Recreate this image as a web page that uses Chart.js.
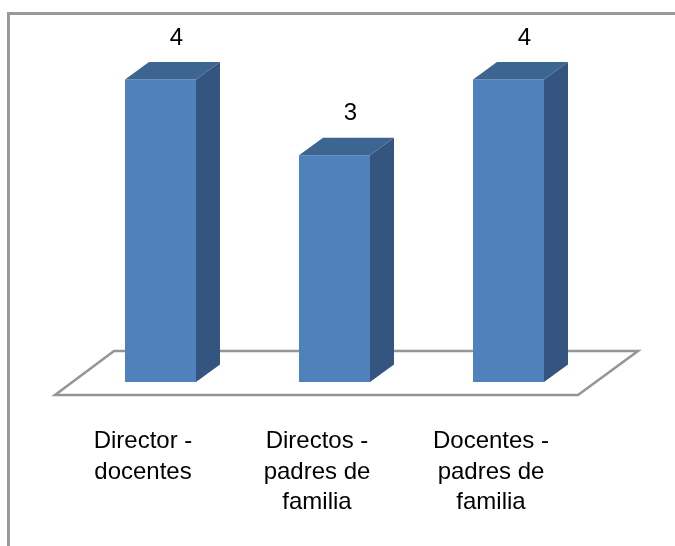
<!DOCTYPE html>
<html>
<head>
<meta charset="utf-8">
<script src="https://cdn.jsdelivr.net/npm/chart.js@4"></script>
<style>
  html, body { margin: 0; padding: 0; background: #fff; }
  #wrap { width: 675px; height: 546px; }
</style>
</head>
<body>
<div id="wrap"><canvas id="grafico" width="675" height="546"></canvas></div>
<script>
// datos del grafico
var categorias = [
    ["Director -", "docentes"],
    ["Directos -", "padres de", "familia"],
    ["Docentes -", "padres de", "familia"]
];
var valores = [4, 3, 4];

var FUENTE = "'Liberation Sans', Arial, sans-serif";
var PROF_X = 24, PROF_Y = 17.5; // profundidad 3D

// marco, piso, caras 3D y etiquetas
var efecto3D = {
    id: 'efecto3D',
    beforeDraw: function(chart) {
        var ctx = chart.ctx;
        ctx.save();
        ctx.fillStyle = '#fff';
        ctx.fillRect(0, 0, chart.width, chart.height);
        ctx.strokeStyle = '#9a9a9a';
        ctx.lineWidth = 3;
        ctx.beginPath();
        ctx.moveTo(8.5, chart.height + 2);
        ctx.lineTo(8.5, 13.5);
        ctx.lineTo(chart.width + 2, 13.5);
        ctx.stroke();
        ctx.restore();
    },
    beforeDatasetsDraw: function(chart) {
        var ctx = chart.ctx;
        var a = chart.chartArea;
        var base = chart.scales.y.getPixelForValue(0);
        ctx.save();
        ctx.strokeStyle = '#959595';
        ctx.lineWidth = 2.5;
        ctx.lineJoin = 'miter';
        ctx.beginPath();
        ctx.moveTo(a.left - 18.5, base + 13);
        ctx.lineTo(a.left + 40.5, base - 31);
        ctx.lineTo(a.right + 42.5, base - 31);
        ctx.lineTo(a.right - 17.5, base + 13);
        ctx.closePath();
        ctx.stroke();
        ctx.restore();
    },
    afterDatasetsDraw: function(chart) {
        var ctx = chart.ctx;
        var meta = chart.getDatasetMeta(0);
        ctx.save();
        meta.data.forEach(function(bar, i) {
            var izq = bar.x - bar.width / 2;
            var der = bar.x + bar.width / 2;
            // cara lateral
            ctx.fillStyle = '#345580';
            ctx.beginPath();
            ctx.moveTo(der, bar.y);
            ctx.lineTo(der + PROF_X, bar.y - PROF_Y);
            ctx.lineTo(der + PROF_X, bar.base - PROF_Y);
            ctx.lineTo(der, bar.base);
            ctx.closePath();
            ctx.fill();
            // cara superior
            ctx.fillStyle = '#3d6592';
            ctx.beginPath();
            ctx.moveTo(izq, bar.y);
            ctx.lineTo(izq + PROF_X, bar.y - PROF_Y);
            ctx.lineTo(der + PROF_X, bar.y - PROF_Y);
            ctx.lineTo(der, bar.y);
            ctx.closePath();
            ctx.fill();
            // etiqueta de valor
            ctx.fillStyle = '#000';
            ctx.font = '24px ' + FUENTE;
            ctx.textAlign = 'center';
            ctx.textBaseline = 'alphabetic';
            ctx.fillText(String(valores[i]), bar.x + 16, bar.y - 35);
        });
        ctx.restore();
    }
};

var grafico = new Chart(document.getElementById('grafico').getContext('2d'), {
    type: 'bar',
    data: {
        labels: categorias,
        datasets: [{
            data: valores,
            backgroundColor: '#4f81bd',
            borderWidth: 0,
            barPercentage: 0.408,
            categoryPercentage: 1
        }]
    },
    options: {
        responsive: false,
        animation: false,
        layout: { padding: { left: 73.5, right: 79.5, top: 4, bottom: 0 } },
        plugins: {
            legend: { display: false },
            tooltip: { enabled: false }
        },
        scales: {
            x: {
                grid: { display: false, drawTicks: false },
                border: { display: false },
                afterFit: function(scale) { scale.height = 164; },
                ticks: {
                    autoSkip: false,
                    maxRotation: 0,
                    minRotation: 0,
                    padding: 44,
                    labelOffset: -17.5,
                    color: '#000',
                    font: { family: FUENTE, size: 24, lineHeight: 1.28 }
                }
            },
            y: {
                display: false,
                min: 0,
                max: 5
            }
        }
    },
    plugins: [efecto3D]
});
</script>
</body>
</html>
